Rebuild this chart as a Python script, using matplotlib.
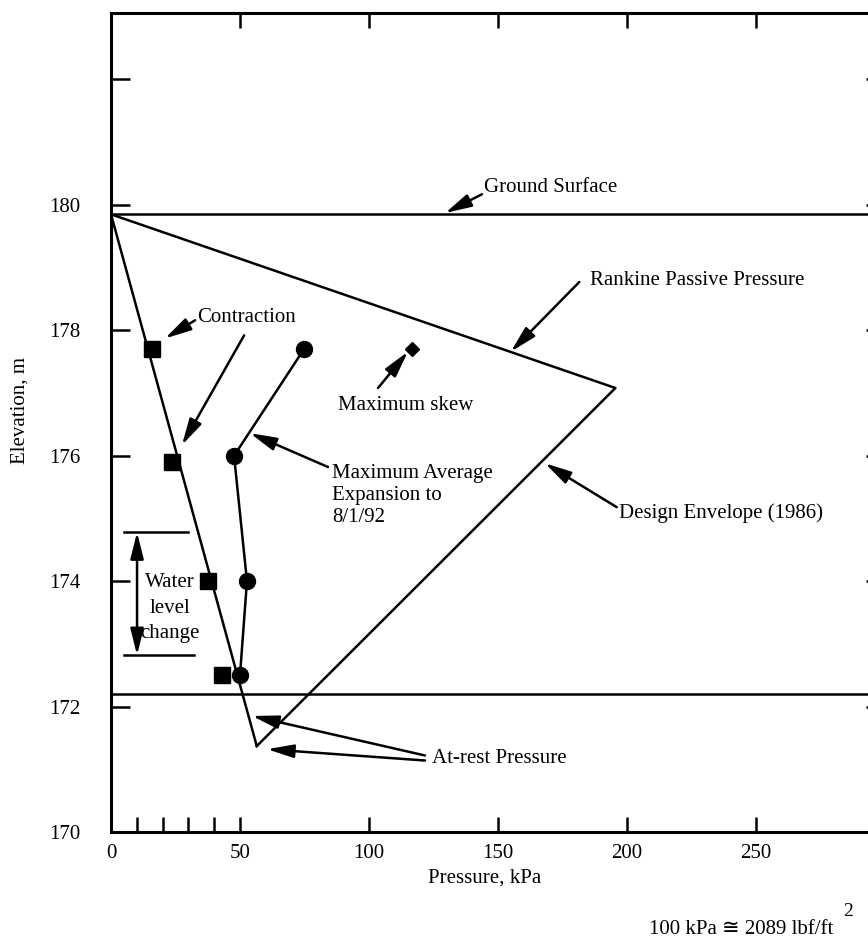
import matplotlib.pyplot as plt
from matplotlib.patches import ArrowStyle

plt.rcParams['font.family'] = ['Liberation Serif', 'DejaVu Sans']
plt.rcParams['font.size'] = 15

# Reference elevations (m)
ground_surface = 179.85
top_of_footing = 172.2

# Rankine passive pressure / design envelope (kPa, m)
envelope_p = [0, 195.5, 56.5]
envelope_z = [179.85, 177.08, 171.37]

# At-rest pressure line
at_rest_p = [0, 56.5]
at_rest_z = [179.85, 171.37]

# Measured contraction (squares)
contraction_p = [15.9, 23.6, 37.6, 43.0]
contraction_z = [177.7, 175.9, 174.0, 172.5]

# Maximum average expansion to 8/1/92 (circles)
expansion_p = [74.8, 47.7, 52.7, 50.0]
expansion_z = [177.7, 176.0, 174.0, 172.5]

# Maximum skew (diamond)
skew_p = [116.5]
skew_z = [177.7]

# Water level change range
water_hi = 174.78
water_lo = 172.82

x_major = [0, 50, 100, 150, 200, 250]
x_minor = [10, 20, 30, 40]
y_major = [170, 172, 174, 176, 178, 180, 182]
y_labels = ['170', '172', '174', '176', '178', '180', '']

LW = 1.8
HEAD = ArrowStyle('-|>', head_length=0.8, head_width=0.2)
DHEAD = ArrowStyle('<|-|>', head_length=0.8, head_width=0.2)


def arrow(ax, tail, tip, style=HEAD):
    ax.annotate('', xy=tip, xytext=tail,
                arrowprops=dict(arrowstyle=style, mutation_scale=20, lw=LW,
                                color='black', shrinkA=0, shrinkB=0),
                annotation_clip=False)


fig = plt.figure(figsize=(8.68, 9.41), dpi=100)
ax = fig.add_axes([111 / 868, 109 / 941, 774 / 868, 819 / 941])
ax.set_xlim(0, 300)
ax.set_ylim(170, 183.06)

# horizontal reference lines
ax.axhline(ground_surface, color='black', lw=LW)
ax.axhline(top_of_footing, color='black', lw=LW)

# envelope and at-rest lines
ax.plot(envelope_p, envelope_z, color='black', lw=LW)
ax.plot(at_rest_p, at_rest_z, color='black', lw=LW)

# measurements
ax.plot(contraction_p, contraction_z, ls='none', marker='s', ms=11.5,
        color='black')
ax.plot(expansion_p, expansion_z, color='black', lw=LW, marker='o', ms=11.5)
ax.plot(skew_p, skew_z, ls='none', marker='D', ms=7.5, color='black')

# water level change
ax.plot([5.0, 29.8], [water_hi, water_hi], color='black', lw=LW)
ax.plot([5.0, 32.2], [water_lo, water_lo], color='black', lw=LW)
arrow(ax, (10.1, water_lo), (10.1, water_hi), DHEAD)
ax.text(23.0, 173.57, 'Water\nlevel\nchange', ha='center', va='center',
        linespacing=1.45)

# labels and pointers
ax.text(144.6, 180.28, 'Ground Surface', ha='left', va='center')
arrow(ax, (143.8, 180.17), (129.5, 179.87))

ax.text(185.8, 178.80, 'Rankine Passive Pressure', ha='left', va='center')
arrow(ax, (181.5, 178.77), (155.0, 177.66))

ax.text(196.8, 175.08, 'Design Envelope (1986)', ha='left', va='center')
arrow(ax, (196.0, 175.18), (168.2, 175.88))

ax.text(114.3, 176.80, 'Maximum skew', ha='center', va='center')
arrow(ax, (103.5, 177.08), (115.1, 177.66))

ax.text(85.7, 175.37, 'Maximum Average\nExpansion to\n8/1/92',
        ha='left', va='center', linespacing=1.2)
arrow(ax, (84.1, 175.82), (53.9, 176.36))

ax.text(33.3, 178.21, 'Contraction', ha='left', va='center')
arrow(ax, (32.6, 178.16), (20.9, 177.87))
arrow(ax, (51.6, 177.92), (27.5, 176.17))

ax.text(124.4, 171.18, 'At-rest Pressure', ha='left', va='center')
arrow(ax, (121.7, 171.22), (54.7, 171.85))
arrow(ax, (121.7, 171.14), (60.5, 171.32))

# axes styling
for s in ax.spines.values():
    s.set_linewidth(2.2)

ax.set_xticks(x_major)
ax.set_xticklabels([str(v) for v in x_major])
ax.set_xticks(x_minor, minor=True)
ax.set_yticks(y_major)
ax.set_yticklabels(y_labels)

ax.tick_params(axis='both', which='both', direction='in', width=1.8)
ax.tick_params(axis='x', which='major', top=True, bottom=True, length=11,
               pad=9)
ax.tick_params(axis='x', which='minor', top=False, bottom=True, length=11)
ax.tick_params(axis='y', which='major', left=True, right=True, length=14,
               pad=22)

fig.text(485 / 868, 1 - 878 / 941, 'Pressure, kPa', ha='center',
         va='center', fontsize=15)
fig.text(20 / 868, 1 - 410 / 941, 'Elevation, m', ha='center',
         va='center', rotation=90, fontsize=15)
fig.text(833 / 868, 1 - 930 / 941, '100 kPa \u2245 2089 lbf/ft',
         ha='right', va='center', fontsize=15)
fig.text(848 / 868, 1 - 911 / 941, '2', ha='center', va='center',
         fontsize=14)

fig.savefig('out.png', dpi=100)
